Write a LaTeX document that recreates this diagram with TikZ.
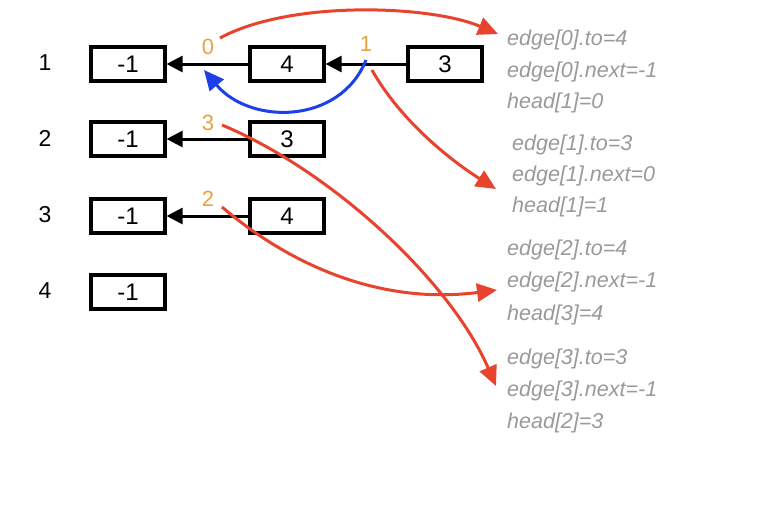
\documentclass[tikz,border=0pt]{standalone}
\usepackage{fontspec}
\setmainfont{Liberation Sans}
\usetikzlibrary{arrows.meta}
\definecolor{cred}{HTML}{E8432D}
\definecolor{corange}{HTML}{E8A33D}
\definecolor{cblue}{HTML}{1C3FE8}
\definecolor{cgray}{HTML}{9A9A9A}
\tikzset{
  cell/.style={draw=black,line width=3.2pt,minimum width=74pt,minimum height=34pt,inner sep=0pt,font=\fontsize{24}{26}\selectfont},
  rowlab/.style={font=\fontsize{23}{25}\selectfont},
  idx/.style={text=corange,font=\fontsize{22}{24}\selectfont,inner sep=0pt},
  info/.style={text=cgray,anchor=west,inner sep=0pt,font=\itshape\fontsize{21.5}{23}\selectfont},
  link/.style={line width=3pt,-{Triangle[length=16pt,width=16pt]}},
  redarr/.style={cred,line width=3pt,-{Triangle[length=20pt,width=18pt]}},
  bluearr/.style={cblue,line width=3pt,-{Triangle[length=20pt,width=18pt]}}
}
\begin{document}
\begin{tikzpicture}[x=1pt,y=-1pt]
\useasboundingbox[fill=white] (0,0) rectangle (764,512);
% row labels
\node[rowlab] (r1) at (45,63) {1};
\node[rowlab] (r2) at (45,138) {2};
\node[rowlab] (r3) at (45,215) {3};
\node[rowlab] (r4) at (45,291) {4};
% cells
\node[cell] (a1) at (128,64) {-1};
\node[cell] (b1) at (287,64) {4};
\node[cell] (c1) at (445,64) {3};
\node[cell] (a2) at (128,139) {-1};
\node[cell] (b2) at (287,139) {3};
\node[cell] (a3) at (128,216) {-1};
\node[cell] (b3) at (287,216) {4};
\node[cell] (a4) at (128,292) {-1};
% links
\draw[link] (c1.west) -- (b1.east);
\draw[link] (b1.west) -- (a1.east);
\draw[link] (b2.west) -- (a2.east);
\draw[link] (b3.west) -- (a3.east);
% index labels
\node[idx] (i0) at (208,47) {0};
\node[idx] (i1) at (366,44) {1};
\node[idx] (i3) at (208,123) {3};
\node[idx] (i2) at (208,199) {2};
% info texts
\node[info] (t1) at (507,40) {edge[0].to=4};
\node[info] (t2) at (507,72) {edge[0].next=-1};
\node[info] (t3) at (507,103) {head[1]=0};
\node[info] (t4) at (512,145) {edge[1].to=3};
\node[info] (t5) at (512,176) {edge[1].next=0};
\node[info] (t6) at (512,207) {head[1]=1};
\node[info] (t7) at (507,250) {edge[2].to=4};
\node[info] (t8) at (507,282) {edge[2].next=-1};
\node[info] (t9) at (507,315) {head[3]=4};
\node[info] (t10) at (507,359) {edge[3].to=3};
\node[info] (t11) at (507,391) {edge[3].next=-1};
\node[info] (t12) at (507,423) {head[2]=3};
% curve endpoints
\coordinate (s0) at (220,38);
\coordinate (e0) at (498,34);
\coordinate (s1) at (372,70);
\coordinate (e1) at (496,189);
\coordinate (s3) at (222,125);
\coordinate (e3) at (496,386);
\coordinate (s2) at (222,207);
\coordinate (e2) at (497,290);
\coordinate (bs) at (366,60);
\coordinate (be) at (204,70);
% red curves
\draw[redarr] (s0) .. controls (290,0) and (430,5) .. (e0);
\draw[redarr] (s1) .. controls (400,120) and (450,160) .. (e1);
\draw[redarr] (s3) .. controls (330,170) and (450,280) .. (e3);
\draw[redarr] (s2) .. controls (290,265) and (380,305) .. (e2);
% blue curve
\draw[bluearr] (bs) .. controls (340,125) and (250,125) .. (be);
\end{tikzpicture}
\end{document}
